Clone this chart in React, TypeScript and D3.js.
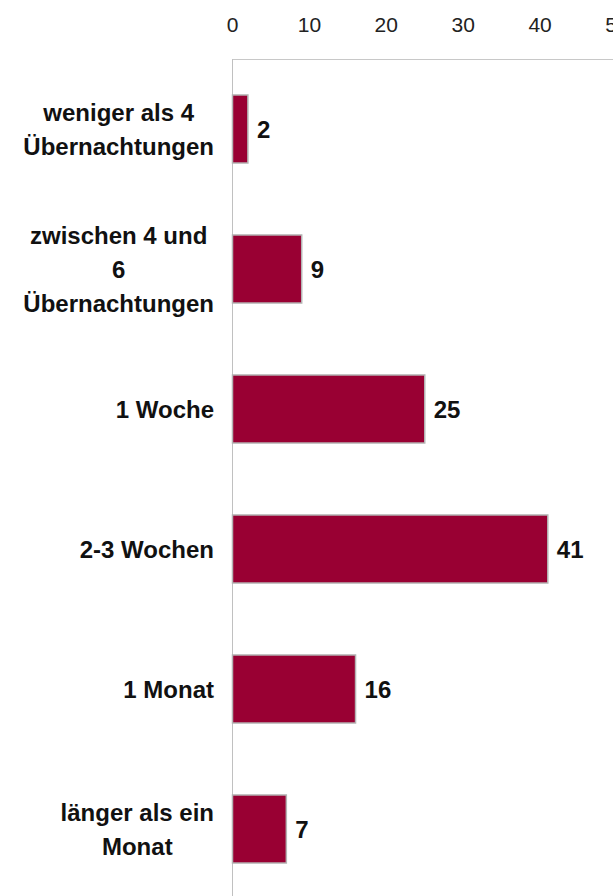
import { useEffect, useRef } from "react";
import * as d3 from "d3";

const categories = [
  "weniger als 4|Übernachtungen",
  "zwischen 4 und|6|Übernachtungen",
  "1 Woche",
  "2-3 Wochen",
  "1 Monat",
  "länger als ein|Monat",
];
const values = [2, 9, 25, 41, 16, 7];
const tickValues = [0, 10, 20, 30, 40, 50];

const W = 613;
const H = 896;

const App = () => {
  const svgRef = useRef<SVGSVGElement>(null);

  useEffect(() => {
    const svg = d3.select(svgRef.current);
    svg.selectAll("*").remove();

    const font = "'Liberation Sans', Arial, sans-serif";

    // scales
    const x = d3.scaleLinear().domain([0, 50]).range([232.5, 617]);
    const y = d3
      .scaleBand()
      .domain(categories)
      .range([59, 899])
      .paddingInner(0.514)
      .paddingOuter(0.257);

    // plot frame
    svg
      .append("line")
      .attr("x1", x(0))
      .attr("x2", W)
      .attr("y1", 59.5)
      .attr("y2", 59.5)
      .attr("stroke", "#c8c8c8")
      .attr("stroke-width", 1);
    svg
      .append("line")
      .attr("x1", x(0))
      .attr("x2", x(0))
      .attr("y1", 59)
      .attr("y2", H)
      .attr("stroke", "#c0c0c0")
      .attr("stroke-width", 1);

    // top axis labels
    svg
      .append("g")
      .selectAll("text")
      .data(tickValues)
      .enter()
      .append("text")
      .attr("x", (d) => x(d))
      .attr("y", 32)
      .attr("text-anchor", "middle")
      .attr("font-family", font)
      .attr("font-size", 21)
      .attr("fill", "#222")
      .text((d) => d);

    // bars
    svg
      .append("g")
      .selectAll("rect")
      .data(values)
      .enter()
      .append("rect")
      .attr("x", x(0))
      .attr("y", (_, i) => y(categories[i])!)
      .attr("width", (d) => x(d) - x(0))
      .attr("height", y.bandwidth())
      .attr("fill", "#990033")
      .attr("stroke", "#b4b4b4")
      .attr("stroke-width", 1.5);

    // value labels
    svg
      .append("g")
      .selectAll("text")
      .data(values)
      .enter()
      .append("text")
      .attr("x", (d) => x(d) + 9)
      .attr("y", (_, i) => y(categories[i])! + y.bandwidth() / 2 + 8.5)
      .attr("font-family", font)
      .attr("font-weight", "bold")
      .attr("font-size", 24)
      .attr("fill", "#111")
      .text((d) => d);

    // category labels, centered lines, right edge at 214
    const lineH = 34;
    categories.forEach((c) => {
      const lines = c.split("|");
      const cy = y(c)! + y.bandwidth() / 2;
      const g = svg.append("g");
      const texts = lines.map((l, j) =>
        g
          .append("text")
          .attr("y", cy - ((lines.length - 1) * lineH) / 2 + j * lineH + 8.5)
          .attr("text-anchor", "middle")
          .attr("font-family", font)
          .attr("font-weight", "bold")
          .attr("font-size", 24)
          .attr("fill", "#111")
          .text(l)
      );
      const maxW = d3.max(texts, (t) => (t.node() as SVGTextElement).getComputedTextLength()) || 0;
      texts.forEach((t) => t.attr("x", 214 - maxW / 2));
    });
  }, []);

  return (
    <svg
      ref={svgRef}
      width={W}
      height={H}
      style={{ position: "absolute", left: 0, top: 0, background: "#fff" }}
    />
  );
};

export default App;
